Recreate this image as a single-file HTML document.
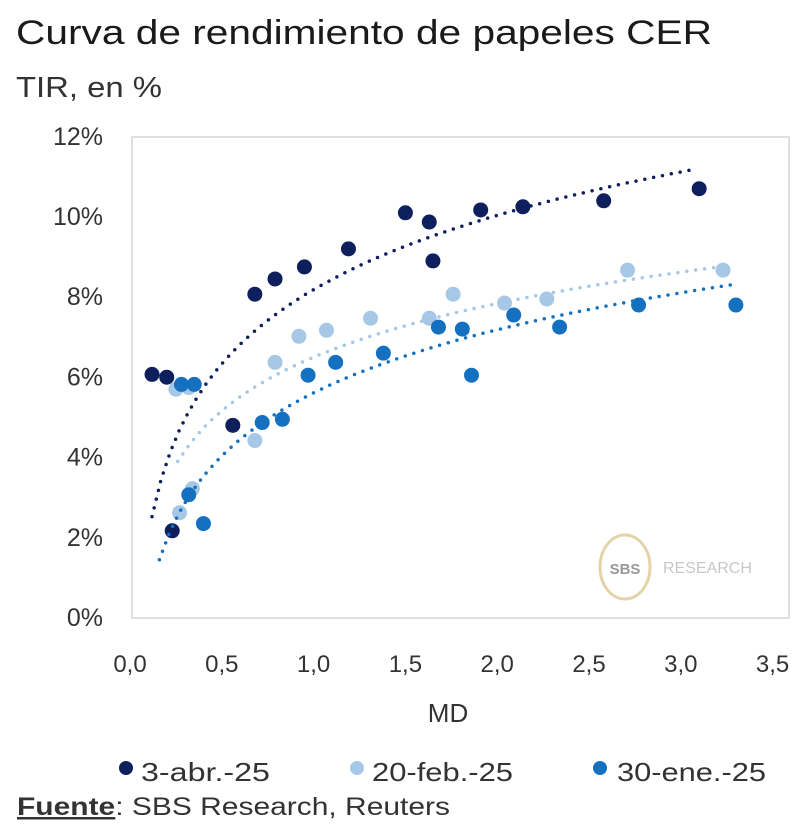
<!DOCTYPE html>
<html><head><meta charset="utf-8"><style>
body{margin:0;background:#fff;width:800px;height:840px;overflow:hidden;font-family:"Liberation Sans",sans-serif;color:#222}
svg{position:absolute;left:0;top:0}
</style></head><body>
<svg width="800" height="840" id="c">
<text x="16" y="44" font-size="34" fill="#1a1a1a" textLength="696" lengthAdjust="spacingAndGlyphs">Curva de rendimiento de papeles CER</text>
<text x="16" y="97" font-size="29" fill="#333" textLength="146" lengthAdjust="spacingAndGlyphs">TIR, en %</text>
<rect x="132" y="137" width="657" height="481" fill="none" stroke="#d6d6d6" stroke-width="1.5"/>
<g>
<ellipse cx="625" cy="567" rx="25" ry="32" fill="none" stroke="#e4d3a8" stroke-width="3"/>
<text x="625" y="574" font-size="15" fill="#999" text-anchor="middle" font-weight="bold">SBS</text>
<text x="663" y="573" font-size="16" fill="#c8c8c8">RESEARCH</text>
</g>
<g id="g"></g>
<text x="448" y="722" font-size="26" fill="#333" text-anchor="middle">MD</text>
<g font-size="26" fill="#333">
<circle cx="126" cy="768" r="7" fill="#0d1f5c"/><text x="141" y="781" textLength="129" lengthAdjust="spacingAndGlyphs">3-abr.-25</text>
<circle cx="357" cy="768" r="7" fill="#a6c8e6"/><text x="372" y="781" textLength="141" lengthAdjust="spacingAndGlyphs">20-feb.-25</text>
<circle cx="600" cy="768" r="7" fill="#1570c0"/><text x="617" y="781" textLength="149" lengthAdjust="spacingAndGlyphs">30-ene.-25</text>
</g>
<text x="17" y="815" font-size="25" fill="#333" textLength="433" lengthAdjust="spacingAndGlyphs"><tspan font-weight="bold" text-decoration="underline">Fuente</tspan>: SBS Research, Reuters</text>
</svg>
<script>
const xTicks=[0,0.5,1,1.5,2,2.5,3,3.5];
const yTicks=[0,2,4,6,8,10,12];
const abrX=[0.12,0.20,0.23,0.56,0.68,0.79,0.95,1.19,1.50,1.63,1.65,1.91,2.14,2.58,3.10];
const abrY=[6.05,5.98,2.15,4.78,8.05,8.43,8.73,9.18,10.08,9.85,8.88,10.15,10.23,10.38,10.68];
const febX=[0.25,0.32,0.27,0.34,0.68,0.79,0.92,1.07,1.31,1.63,1.76,2.04,2.27,2.71,3.23];
const febY=[5.68,5.72,2.6,3.2,4.4,6.35,7.0,7.15,7.45,7.45,8.05,7.83,7.93,8.65,8.65];
const eneX=[0.28,0.35,0.32,0.40,0.72,0.83,0.97,1.12,1.38,1.68,1.81,1.86,2.09,2.34,2.77,3.30];
const eneY=[5.8,5.8,3.05,2.33,4.85,4.93,6.03,6.35,6.58,7.23,7.18,6.03,7.53,7.23,7.78,7.78];
// trendline y = a + b*ln(x), over [from, to]
const abrTrend=[8.165,2.67,0.12,3.06];
const febTrend=[6.48,1.93,0.26,3.21];
const eneTrend=[5.59,2.27,0.16,3.30];
const NS="http://www.w3.org/2000/svg";
const g=document.getElementById('g');
const sx=v=>130+v*183.6, sy=v=>617-v*40.1;
function mk(t,a){const e=document.createElementNS(NS,t);for(const k in a)e.setAttribute(k,a[k]);g.appendChild(e);return e;}
xTicks.forEach(v=>{const t=mk('text',{x:sx(v),y:672,'font-size':24,fill:'#333','text-anchor':'middle'});t.textContent=v.toFixed(1).replace('.',',');

});
yTicks.forEach(v=>{const t=mk('text',{x:103,y:sy(v)+9,'font-size':25,fill:'#333','text-anchor':'end'});t.textContent=v+'%';

});
function series(xs,ys,tr,col,name){
 const [a,b,x0,x1]=tr;let d='';
 for(let k=0;k<=60;k++){const x=x0+(x1-x0)*k/60;d+=(k?'L':'M')+sx(x).toFixed(1)+','+sy(a+b*Math.log(x)).toFixed(1);}
 const p=mk('path',{d:d,fill:'none',stroke:col,'stroke-width':3.5,'stroke-dasharray':'0 9','stroke-linecap':'round'});
 
 
 xs.forEach((x,i)=>{const c=mk('circle',{cx:sx(x),cy:sy(ys[i]),r:7.5,fill:col});
 
 });
}
series(abrX,abrY,abrTrend,'#0d1f5c','series-3-abr');
series(febX,febY,febTrend,'#a6c8e6','series-20-feb');
series(eneX,eneY,eneTrend,'#1570c0','series-30-ene');
</script>
</body></html>
